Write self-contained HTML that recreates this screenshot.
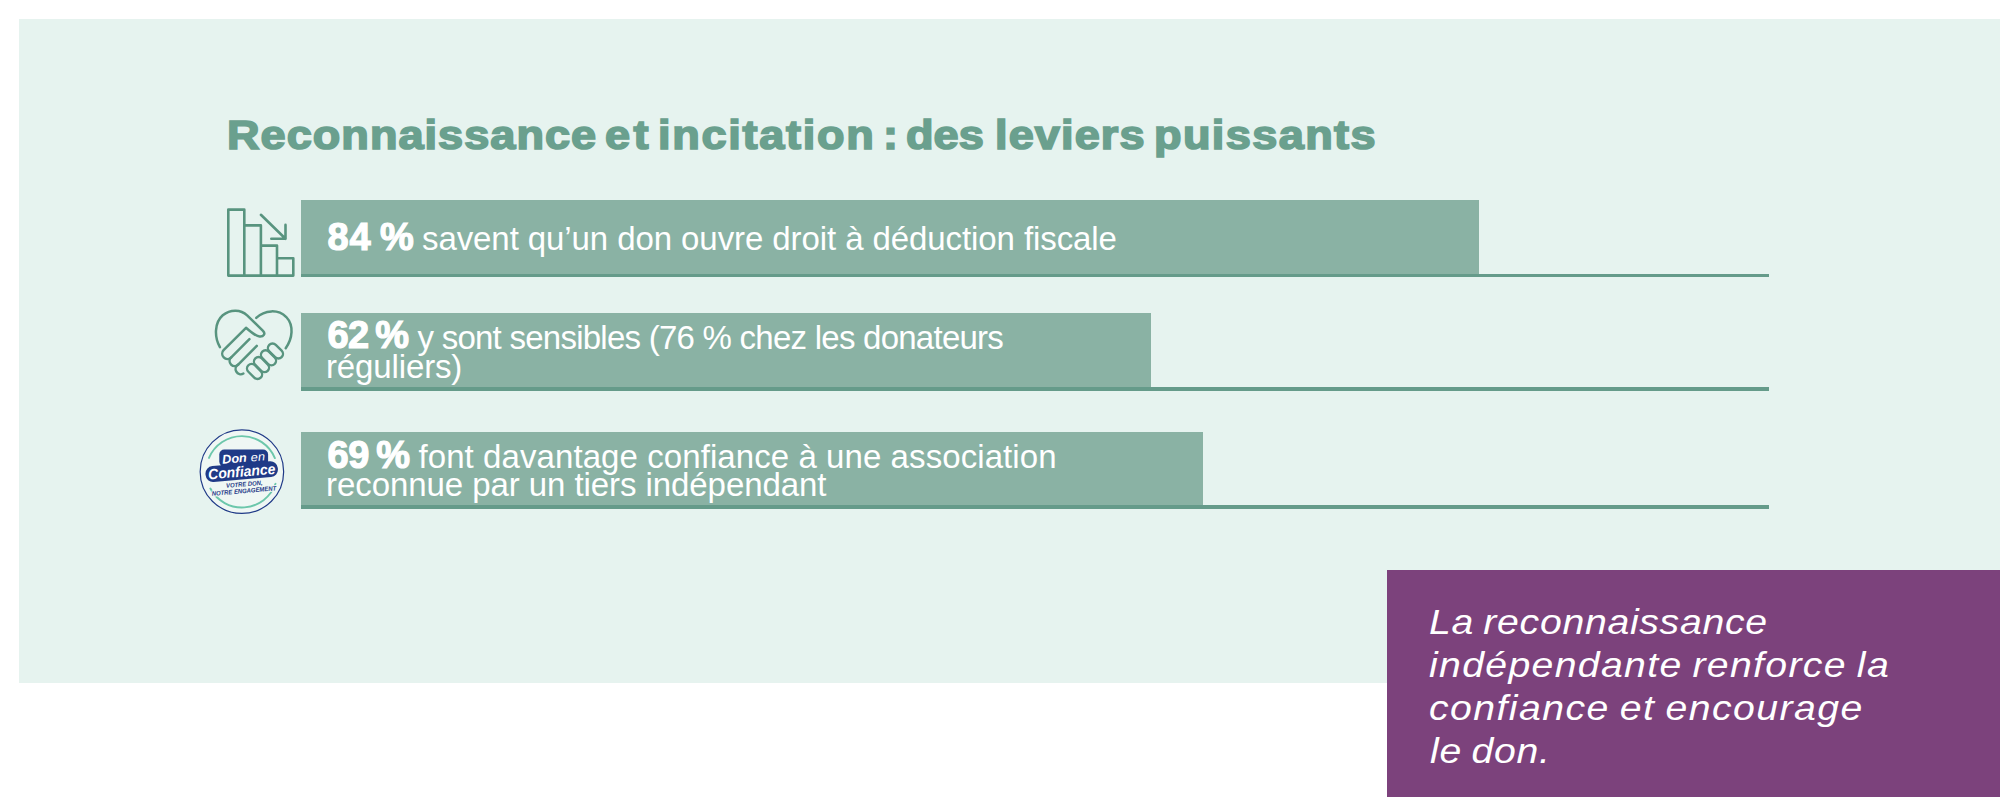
<!DOCTYPE html>
<html lang="fr">
<head>
<meta charset="utf-8">
<title>Reconnaissance et incitation : des leviers puissants</title>
<style>
html,body{margin:0;padding:0;background:#fff;}
body{width:2000px;height:811px;position:relative;overflow:hidden;font-family:"Liberation Sans",sans-serif;}
.panel{position:absolute;left:18.5px;top:18.5px;width:1981.5px;height:664.5px;background:#E6F3EF;}
.quote{position:absolute;left:1387px;top:569.8px;width:613px;height:226.8px;background:#7C427C;}
.bar{position:absolute;left:300.5px;background:#8AB2A4;}
.rule{position:absolute;left:300.5px;width:1468px;height:3.6px;background:#659B8A;}
.tx{position:absolute;white-space:nowrap;line-height:1;margin:0;padding:0;}
.title{-webkit-text-stroke:1.7px #6AA08E;transform:scaleX(1.1);transform-origin:0 0;}
.pq{transform:scaleX(1.12);transform-origin:0 0;word-spacing:-2px;}
.num{-webkit-text-stroke:1.2px #fff;word-spacing:-3px;}
svg.ic{position:absolute;left:0;top:0;}
</style>
</head>
<body>
<div class="panel"></div>
<div class="quote"></div>
<div class="bar" style="top:200px;width:1178px;height:75px"></div>
<div class="rule" style="top:273.5px"></div>
<div class="bar" style="top:313px;width:850.5px;height:76px"></div>
<div class="rule" style="top:387.4px"></div>
<div class="bar" style="top:432px;width:902px;height:75px"></div>
<div class="rule" style="top:505.2px"></div>
<span id="t1" class="tx title" style="left:226.50px;top:114.59px;font-size:41px;font-weight:700;font-style:normal;color:#6AA08E;letter-spacing:0.923px">Reconnaissance</span>
<span id="t2" class="tx title" style="left:605.00px;top:114.59px;font-size:41px;font-weight:700;font-style:normal;color:#6AA08E;letter-spacing:3.000px">et</span>
<span id="t3" class="tx title" style="left:658.00px;top:114.59px;font-size:41px;font-weight:700;font-style:normal;color:#6AA08E;letter-spacing:1.556px">incitation</span>
<span id="t4" class="tx title" style="left:882.50px;top:114.59px;font-size:41px;font-weight:700;font-style:normal;color:#6AA08E;letter-spacing:0.000px">:</span>
<span id="t5" class="tx title" style="left:905.50px;top:114.59px;font-size:41px;font-weight:700;font-style:normal;color:#6AA08E;letter-spacing:0.000px">des</span>
<span id="t6" class="tx title" style="left:994.50px;top:114.59px;font-size:41px;font-weight:700;font-style:normal;color:#6AA08E;letter-spacing:1.000px">leviers</span>
<span id="t7" class="tx title" style="left:1153.50px;top:114.59px;font-size:41px;font-weight:700;font-style:normal;color:#6AA08E;letter-spacing:1.250px">puissants</span>
<span id="b1" class="tx num" style="left:327.50px;top:218.23px;font-size:38px;font-weight:700;font-style:normal;color:#fff;letter-spacing:0.933px">84 %</span>
<span id="l1" class="tx lt" style="left:422.00px;top:222.07px;font-size:33px;font-weight:400;font-style:normal;color:#fff;letter-spacing:-0.085px">savent qu’un don ouvre droit à déduction fiscale</span>
<span id="b2" class="tx num" style="left:327.50px;top:316.43px;font-size:38px;font-weight:700;font-style:normal;color:#fff;letter-spacing:-0.667px">62 %</span>
<span id="l2a" class="tx lt" style="left:417.50px;top:320.57px;font-size:33px;font-weight:400;font-style:normal;color:#fff;letter-spacing:-0.750px">y sont sensibles (76 % chez les donateurs</span>
<span id="l2b" class="tx lt" style="left:326.00px;top:349.57px;font-size:33px;font-weight:400;font-style:normal;color:#fff;letter-spacing:-0.133px">réguliers)</span>
<span id="b3" class="tx num" style="left:327.50px;top:435.63px;font-size:38px;font-weight:700;font-style:normal;color:#fff;letter-spacing:-0.400px">69 %</span>
<span id="l3a" class="tx lt" style="left:418.50px;top:439.67px;font-size:33px;font-weight:400;font-style:normal;color:#fff;letter-spacing:0.078px">font davantage confiance à une association</span>
<span id="l3b" class="tx lt" style="left:326.00px;top:468.17px;font-size:33px;font-weight:400;font-style:normal;color:#fff;letter-spacing:-0.069px">reconnue par un tiers indépendant</span>
<span id="p1" class="tx pq" style="left:1429.00px;top:604.12px;font-size:35px;font-weight:400;font-style:italic;color:#fff;letter-spacing:0.625px">La reconnaissance</span>
<span id="p2" class="tx pq" style="left:1429.00px;top:646.62px;font-size:35px;font-weight:400;font-style:italic;color:#fff;letter-spacing:1.183px">indépendante renforce la</span>
<span id="p3" class="tx pq" style="left:1429.00px;top:689.62px;font-size:35px;font-weight:400;font-style:italic;color:#fff;letter-spacing:1.286px">confiance et encourage</span>
<span id="p4" class="tx pq" style="left:1430.00px;top:732.87px;font-size:35px;font-weight:400;font-style:italic;color:#fff;letter-spacing:0.667px">le don.</span>
<svg class="ic" width="2000" height="811" viewBox="0 0 2000 811">
<!-- icon 1 : declining bar chart -->
<g fill="none" stroke="#58947F" stroke-width="2.6" stroke-linecap="round" stroke-linejoin="round">
<path d="M228.3 275.6V209.6H244.3V275.6M244.3 225.4H260.9V275.6M260.9 245.6H277V275.6M277 258.3H293.3V275.6H228.3"/>
<path d="M260.9 214.8L285.5 238.8M271.3 238.8H285.5V224.9"/>
</g>
<!-- icon 2 : handshake heart (drawn in zoomed coordinates) -->
<g transform="translate(208 300) scale(0.11344)" fill="none" stroke="#58947F" stroke-width="22" stroke-linecap="round" stroke-linejoin="round">
<path d="M105 415C55 330 55 200 130 135C200 78 290 85 345 135L485 272C510 298 490 325 455 322C425 320 395 298 335 245L137.5 442.5A46 46 0 0 0 202.5 507.5L365 345"/>
<path d="M203.5 506.5A44 44 0 0 0 266 569L430 405"/>
<path d="M266 569A44 44 0 0 0 312 648"/>
<path d="M425 158C500 85 620 80 690 150C760 225 745 340 685 425"/>
</g>
<g fill="none" stroke="#58947F" stroke-width="2.4">
<rect x="-8.75" y="-4.6" width="17.5" height="9.2" rx="4.6" transform="translate(275.45 351) rotate(45)"/>
<rect x="-8.75" y="-4.6" width="17.5" height="9.2" rx="4.6" transform="translate(268.5 357.8) rotate(45)"/>
<rect x="-8.75" y="-4.6" width="17.5" height="9.2" rx="4.6" transform="translate(261.5 364.6) rotate(45)"/>
<rect x="-8.75" y="-4.6" width="17.5" height="9.2" rx="4.6" transform="translate(254.56 371.45) rotate(45)"/>
</g>
<!-- icon 3 : Don en Confiance label -->
<g font-family="Liberation Sans, sans-serif" font-style="italic">
<circle cx="241.9" cy="471.7" r="42.4" fill="#fff" fill-opacity="0.35" stroke="none"/>
<circle cx="241.9" cy="471.7" r="41.75" fill="none" stroke="#1F3A87" stroke-width="1.2"/>
<path d="M208.99 457.97A35.7 35.7 0 0 1 274.88 458.14M275.53 483.78A35.7 35.7 0 0 1 210.38 488.56" fill="none" stroke="#6CC7AB" stroke-width="1.9" stroke-linecap="round"/>
<rect x="219.3" y="449.6" width="48.8" height="17" rx="5" fill="#1F3A87"/>
<g transform="rotate(-4.8 241.9 471.7)">
<rect x="205.4" y="463.6" width="72.6" height="15.9" rx="7.5" fill="#1F3A87"/>
<text x="223.3" y="462.2" font-size="12.4" font-weight="700" fill="#fff" textLength="24.6" lengthAdjust="spacingAndGlyphs">Don</text>
<text x="251.9" y="462.2" font-size="11.6" font-weight="400" fill="#fff" textLength="14.2" lengthAdjust="spacingAndGlyphs">en</text>
<text x="208.1" y="476.6" font-size="14.6" font-weight="700" fill="#fff" textLength="67.2" lengthAdjust="spacingAndGlyphs">Confiance</text>
<text x="225" y="486.5" font-size="6.3" font-weight="700" fill="#1F3A87" stroke="#EFF7F5" stroke-width="2" paint-order="stroke" textLength="36.4" lengthAdjust="spacingAndGlyphs">VOTRE DON,</text>
<text x="210" y="493.2" font-size="6.3" font-weight="700" fill="#1F3A87" stroke="#EFF7F5" stroke-width="2" paint-order="stroke" textLength="64.6" lengthAdjust="spacingAndGlyphs">NOTRE ENGAGEMENT</text>
</g>
</g>
</svg>

</body>
</html>
